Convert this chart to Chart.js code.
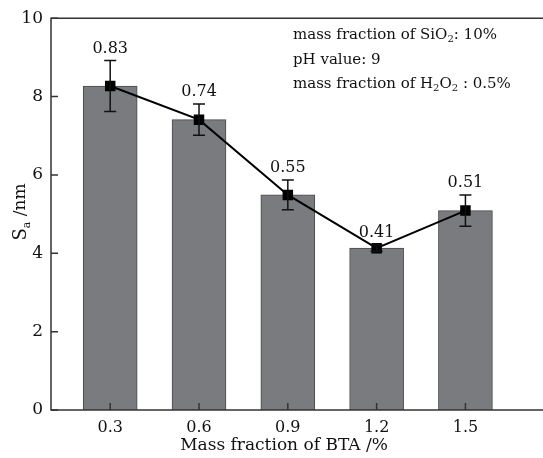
<!DOCTYPE html>
<html>
<head>
<meta charset="utf-8">
<script src="https://cdn.jsdelivr.net/npm/chart.js@4.4.0/dist/chart.umd.min.js"></script>
<style>
  html, body { margin: 0; padding: 0; background: #fff; }
  #wrap { width: 543px; height: 458px; }
</style>
</head>
<body>
<div id="wrap"><canvas id="myChart" width="543" height="458"></canvas></div>
<script>
var btaFraction = [0.3, 0.6, 0.9, 1.2, 1.5];
var saValues = [8.27, 7.41, 5.49, 4.13, 5.09];
var saErrors = [0.65, 0.40, 0.38, 0.08, 0.40];
var pointLabels = ['0.83', '0.74', '0.55', '0.41', '0.51'];
var xTicks = [0.3, 0.6, 0.9, 1.2, 1.5];
var yTicks = [0, 2, 4, 6, 8, 10];

var serif = '"DejaVu Serif", serif';

// frame, inward ticks, error bars, value labels and texts
var extras = {
    id: 'extras',
    afterDatasetsDraw: function (chart) {
        var ctx = chart.ctx;
        var a = chart.chartArea;
        var xs = chart.scales.x, ys = chart.scales.y;
        ctx.save();

        // error bars
        ctx.strokeStyle = '#111';
        ctx.lineWidth = 1.5;
        for (var i = 0; i < btaFraction.length; i++) {
            var px = xs.getPixelForValue(btaFraction[i]);
            var top = ys.getPixelForValue(saValues[i] + saErrors[i]);
            var bot = ys.getPixelForValue(saValues[i] - saErrors[i]);
            ctx.beginPath();
            ctx.moveTo(px, top); ctx.lineTo(px, bot);
            ctx.moveTo(px - 6, top); ctx.lineTo(px + 6, top);
            ctx.moveTo(px - 6, bot); ctx.lineTo(px + 6, bot);
            ctx.stroke();
        }

        // value labels
        ctx.fillStyle = '#111';
        ctx.font = '16px ' + serif;
        ctx.textAlign = 'center';
        ctx.textBaseline = 'alphabetic';
        for (var j = 0; j < btaFraction.length; j++) {
            var lx = xs.getPixelForValue(btaFraction[j]);
            var ly = ys.getPixelForValue(saValues[j] + saErrors[j]) - 8;
            ctx.fillText(pointLabels[j], lx, ly);
        }

        // frame: left, top and bottom (right edge falls off the picture)
        ctx.strokeStyle = '#333';
        ctx.lineWidth = 1.5;
        ctx.beginPath();
        ctx.moveTo(chart.width, a.top);
        ctx.lineTo(a.left, a.top);
        ctx.lineTo(a.left, a.bottom);
        ctx.lineTo(chart.width, a.bottom);
        ctx.stroke();

        // inward ticks
        ctx.beginPath();
        xTicks.forEach(function (v) {
            var p = xs.getPixelForValue(v);
            ctx.moveTo(p, a.bottom); ctx.lineTo(p, a.bottom - 7);
        });
        yTicks.forEach(function (v) {
            var p = ys.getPixelForValue(v);
            ctx.moveTo(a.left, p); ctx.lineTo(a.left + 7, p);
        });
        ctx.stroke();

        // axis titles
        ctx.fillStyle = '#111';
        ctx.font = '17px ' + serif;
        ctx.textAlign = 'center';
        ctx.textBaseline = 'middle';
        ctx.fillText('Mass fraction of BTA /%', 284, 446);

        ctx.save();
        ctx.translate(21, 212);
        ctx.rotate(-Math.PI / 2);
        ctx.textAlign = 'left';
        ctx.font = '18px ' + serif;
        var w1 = ctx.measureText('S').width;
        ctx.font = '11px ' + serif;
        var w2 = ctx.measureText('a').width;
        ctx.font = '17px ' + serif;
        var w3 = ctx.measureText(' /nm').width;
        var sx = -(w1 + w2 + w3) / 2;
        ctx.font = '18px ' + serif;
        ctx.fillText('S', sx, 0);
        ctx.font = '11px ' + serif;
        ctx.fillText('a', sx + w1, 6);
        ctx.font = '17px ' + serif;
        ctx.fillText(' /nm', sx + w1 + w2, 0);
        ctx.restore();

        // annotation
        var lines = [
            [['mass fraction of SiO', 0], ['2', 1], [': 10%', 0]],
            [['pH value: 9', 0]],
            [['mass fraction of H', 0], ['2', 1], ['O', 0], ['2', 1], [' : 0.5%', 0]]
        ];
        ctx.textAlign = 'left';
        ctx.textBaseline = 'alphabetic';
        lines.forEach(function (parts, k) {
            var x = 293, y = 39 + k * 24.5;
            parts.forEach(function (p) {
                ctx.font = (p[1] ? '10px ' : '15px ') + serif;
                ctx.fillText(p[0], x, y + (p[1] ? 3 : 0));
                x += ctx.measureText(p[0]).width;
            });
        });

        ctx.restore();
    }
};

new Chart('myChart', {
    data: {
        datasets: [{
            type: 'line',
            data: btaFraction.map(function (x, i) { return { x: x, y: saValues[i] }; }),
            borderColor: '#000',
            backgroundColor: '#000',
            borderWidth: 2,
            pointStyle: 'rect',
            pointRadius: 6,
            pointHoverRadius: 6,
            order: 0
        }, {
            type: 'bar',
            data: btaFraction.map(function (x, i) { return { x: x, y: saValues[i] }; }),
            backgroundColor: '#7a7b7f',
            borderColor: '#4a4a4e',
            borderWidth: 1,
            barThickness: 54,
            order: 1
        }]
    },
    options: {
        responsive: false,
        animation: false,
        layout: { padding: { top: 14, right: 1, left: 0, bottom: 0 } },
        plugins: {
            legend: { display: false },
            tooltip: { enabled: false }
        },
        scales: {
            x: {
                type: 'linear',
                offset: false,
                min: 0.1,
                max: 1.735,
                grid: { display: false, drawTicks: false, offset: false },
                border: { display: false },
                afterBuildTicks: function (scale) {
                    scale.ticks = xTicks.map(function (v) { return { value: v }; });
                },
                afterFit: function (scale) { scale.height = 48; },
                ticks: {
                    autoSkip: false,
                    maxRotation: 0,
                    padding: 8,
                    color: '#111',
                    font: { family: serif, size: 16 },
                    callback: function (v) { return v.toFixed(1); }
                }
            },
            y: {
                min: 0,
                max: 10,
                grid: { display: false, drawTicks: false },
                border: { display: false },
                afterBuildTicks: function (scale) {
                    scale.ticks = yTicks.map(function (v) { return { value: v }; });
                },
                afterFit: function (scale) { scale.width = 51; },
                ticks: {
                    padding: 8,
                    color: '#111',
                    font: { family: serif, size: 17 }
                }
            }
        }
    },
    plugins: [extras]
});
</script>
</body>
</html>
